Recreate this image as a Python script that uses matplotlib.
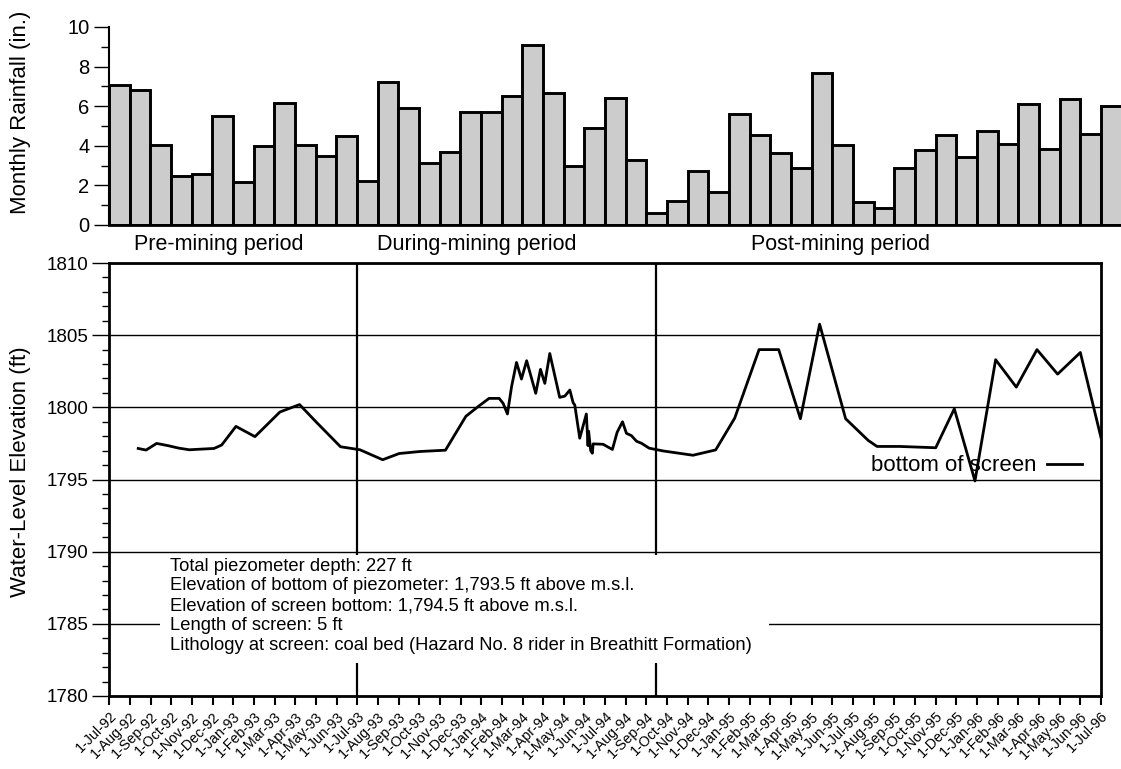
import matplotlib
matplotlib.use('Agg')
import matplotlib.pyplot as plt
from matplotlib.ticker import MultipleLocator
from matplotlib.patches import Rectangle
import pandas as pd

plt.rcParams['font.family'] = ['Liberation Sans', 'DejaVu Sans']

# monthly rainfall, Jul-92 .. Jul-96 (inches)
rain = [7.05, 6.83, 4.05, 2.48, 2.58, 5.5, 2.16, 4.0, 6.18, 4.04, 3.51, 4.49,
        2.2, 7.24, 5.91, 3.15, 3.69, 5.69, 5.69, 6.54, 9.08, 6.67, 2.97, 4.9,
        6.41, 3.3, 0.59, 1.23, 2.72, 1.68, 5.62, 4.54, 3.64, 2.88, 7.68, 4.02,
        1.17, 0.85, 2.88, 3.78, 4.56, 3.42, 4.76, 4.07, 6.09, 3.82, 6.38, 4.58,
        6.02]

# water level: time in months since 1-Jul-92, elevation in ft
t_months = [1.40, 1.78, 2.29, 2.86, 3.34, 3.87, 4.39, 5.07, 5.44, 6.13, 7.05,
            8.26, 9.21, 10.03, 11.19, 12.13, 13.23, 14.03, 15.03, 16.27, 17.26,
            17.85, 18.38, 18.87, 19.06, 19.27, 19.47, 19.71, 19.95, 20.20,
            20.64, 20.87, 21.08, 21.32, 21.80, 22.05, 22.29, 22.45, 22.53,
            22.77, 23.09, 23.17, 23.20, 23.30, 23.38, 23.42, 23.90, 24.35,
            24.58, 24.84, 25.03, 25.27, 25.52, 25.76, 26.13, 26.80, 28.25,
            29.35, 30.27, 31.45, 32.40, 33.45, 34.38, 35.64, 36.73, 37.16,
            38.25, 40.0, 40.9, 41.9, 42.9, 43.9, 44.9, 45.9, 47.0, 48.0]
elev = [1797.15, 1797.04, 1797.50, 1797.34, 1797.18, 1797.06, 1797.10,
        1797.15, 1797.39, 1798.68, 1797.97, 1799.68, 1800.19, 1798.96,
        1797.27, 1797.06, 1796.37, 1796.80, 1796.94, 1797.03, 1799.38,
        1800.05, 1800.62, 1800.62, 1800.28, 1799.54, 1801.43, 1803.11,
        1801.96, 1803.23, 1800.97, 1802.63, 1801.66, 1803.73, 1800.69,
        1800.78, 1801.20, 1800.32, 1800.16, 1797.86, 1799.54, 1797.35,
        1798.35, 1797.00, 1796.82, 1797.47, 1797.44, 1797.08, 1798.27,
        1799.00, 1798.20, 1798.04, 1797.65, 1797.51, 1797.17, 1796.98,
        1796.68, 1797.05, 1799.25, 1804.0, 1804.0, 1799.21, 1805.76,
        1799.21, 1797.71, 1797.29, 1797.29, 1797.2, 1799.9, 1794.9,
        1803.3, 1801.4, 1804.0, 1802.3, 1803.8, 1797.9]

months = pd.date_range('1992-07-01', '1996-07-01', freq='MS')
tick_labels = ['1-' + d.strftime('%b-%y') for d in months]

period_names = ['Pre-mining period', 'During-mining period', 'Post-mining period']
period_centers = [5.3, 17.8, 35.4]
period_bounds = [12.0, 26.45]

info = ("Total piezometer depth: 227 ft\n"
        "Elevation of bottom of piezometer: 1,793.5 ft above m.s.l.\n"
        "Elevation of screen bottom: 1,794.5 ft above m.s.l.\n"
        "Length of screen: 5 ft\n"
        "Lithology at screen: coal bed (Hazard No. 8 rider in Breathitt Formation)")

W, H = 1121, 769
fig = plt.figure(figsize=(W / 100, H / 100), dpi=100)

# ---- rainfall bars
ax1 = fig.add_axes([109 / W, (H - 225) / H, (W - 109) / W, 198 / H])
ax1.bar([i + 0.5 for i in range(len(rain))], rain, width=1.0,
        color='#cccccc', edgecolor='black', linewidth=2.1)
ax1.set_xlim(0, (W - 109) / 20.67)
ax1.set_ylim(0, 10)
for s in ['top', 'right']:
    ax1.spines[s].set_visible(False)
ax1.spines['left'].set_linewidth(1.5)
ax1.spines['bottom'].set_linewidth(2)
ax1.set_xticks([])
ax1.yaxis.set_major_locator(MultipleLocator(2))
ax1.yaxis.set_minor_locator(MultipleLocator(1))
ax1.tick_params(axis='y', which='major', length=11, width=1, labelsize=14.5, pad=3)
ax1.tick_params(axis='y', which='minor', length=5.5, width=1)
ax1.set_ylabel('Monthly Rainfall (in.)', fontsize=16)
ax1.yaxis.set_label_coords(31 / W, (H - 112) / H, transform=fig.transFigure)

# ---- water level
ax2 = fig.add_axes([109.3 / W, (H - 696) / H, (1101 - 109.3) / W, 433 / H])
ax2.plot(t_months, elev, color='black', linewidth=2, label='bottom of screen', zorder=4)
ax2.set_xlim(0, 48)
ax2.set_ylim(1780, 1810)
for s in ax2.spines.values():
    s.set_linewidth(2)
ax2.set_xticks(range(len(tick_labels)))
ax2.set_xticklabels(tick_labels, rotation=45, ha='right', rotation_mode='anchor', fontsize=10.3)
ax2.tick_params(axis='x', length=6.5, width=1.5, pad=3)
ax2.yaxis.set_major_locator(MultipleLocator(5))
ax2.yaxis.set_minor_locator(MultipleLocator(1))
ax2.tick_params(axis='y', which='major', length=12, width=1, labelsize=13.5, pad=3)
ax2.tick_params(axis='y', which='minor', length=5, width=1)
ax2.grid(axis='y', which='major', color='black', linewidth=1)
ax2.set_axisbelow(True)
for b in period_bounds:
    ax2.axvline(b, color='black', linewidth=1.6, zorder=3)
ax2.set_ylabel('Water-Level Elevation (ft)', fontsize=16)
ax2.yaxis.set_label_coords(31 / W, (H - 472) / H, transform=fig.transFigure)

for name, c in zip(period_names, period_centers):
    ax2.text(c, 1811.3, name, ha='center', va='center', fontsize=15.5, clip_on=False)

# white block behind the note (hides grid / period lines, keeps 1790 line)
ax2.add_patch(Rectangle((2.45, 1782.3), 29.5, 7.45, facecolor='white',
                        edgecolor='none', zorder=3.5))
ax2.text(2.94, 1786.25, info, ha='left', va='center', fontsize=13.25, linespacing=1.22,
         zorder=5)

ax2.legend(loc='center right', bbox_to_anchor=(0.99, (1795.95 - 1780) / 30),
           frameon=False, markerfirst=False, fontsize=16, handlelength=1.6,
           handletextpad=0.45, borderaxespad=0)

fig.savefig('out.png', dpi=100)
